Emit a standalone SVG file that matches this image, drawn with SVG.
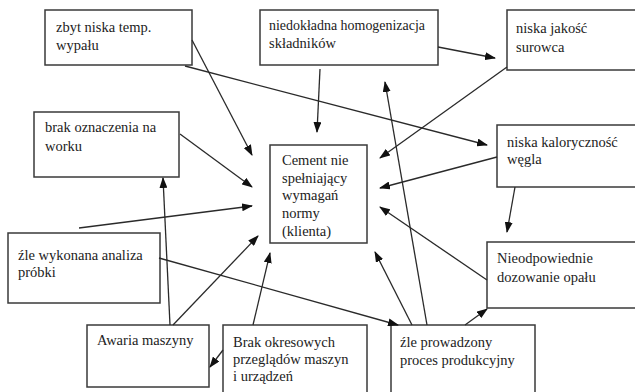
<svg xmlns="http://www.w3.org/2000/svg" width="635" height="392" viewBox="0 0 635 392">
<style>
.box{fill:#fff;stroke:#3a3a3a;stroke-width:1.5}
.t{font-family:'Liberation Serif','Tinos','DejaVu Serif','Noto Serif',serif;font-size:14.5px;fill:#222}
.c line{stroke:#2a2a2a;stroke-width:1.3;marker-end:url(#ah)}
</style>
<defs>
<marker id="ah" markerUnits="userSpaceOnUse" markerWidth="11" markerHeight="8" refX="10" refY="4" orient="auto">
<path d="M0,0 L11,4 L0,8 z" fill="#111"/>
</marker>
</defs>
<rect width="635" height="392" fill="#fff"/>
<g id="n-zbyt"><rect class="box" x="45" y="10" width="147" height="55"/><text class="t" x="56" y="32">zbyt niska temp.</text><text class="t" x="56" y="50">wypału</text></g>
<g id="n-brak-oznaczenia"><rect class="box" x="34" y="112" width="145" height="65"/><text class="t" x="45" y="132">brak oznaczenia na</text><text class="t" x="45" y="151">worku</text></g>
<g id="n-niedokladna"><rect class="box" x="260" y="10" width="178" height="55"/><text class="t" x="269" y="30" textLength="156" lengthAdjust="spacingAndGlyphs">niedokładna homogenizacja</text><text class="t" x="269" y="48">składników</text></g>
<g id="n-jakosc"><rect class="box" x="507" y="10" width="135" height="60"/><text class="t" x="516" y="33">niska jakość</text><text class="t" x="516" y="52">surowca</text></g>
<g id="n-kalorycznosc"><rect class="box" x="497" y="125" width="145" height="62"/><text class="t" x="507" y="147">niska kaloryczność</text><text class="t" x="507" y="164">węgla</text></g>
<g id="n-cement"><rect class="box" x="270" y="145" width="97" height="98"/><text class="t" x="282" y="165">Cement nie</text><text class="t" x="282" y="183">spełniający</text><text class="t" x="282" y="200">wymagań</text><text class="t" x="282" y="218">normy</text><text class="t" x="282" y="236">(klienta)</text></g>
<g id="n-analiza"><rect class="box" x="8" y="233" width="152" height="70"/><text class="t" x="18" y="260">źle wykonana analiza</text><text class="t" x="18" y="277">próbki</text></g>
<g id="n-awaria"><rect class="box" x="87" y="325" width="122" height="62"/><text class="t" x="97" y="345">Awaria maszyny</text></g>
<g id="n-przeglady"><rect class="box" x="223" y="325" width="144" height="72"/><text class="t" x="233" y="347">Brak okresowych</text><text class="t" x="233" y="364">przeglądów maszyn</text><text class="t" x="233" y="381">i urządzeń</text></g>
<g id="n-proces"><rect class="box" x="391" y="325" width="144" height="72"/><text class="t" x="400" y="347">źle prowadzony</text><text class="t" x="400" y="365">proces produkcyjny</text></g>
<g id="n-dozowanie"><rect class="box" x="487" y="242" width="155" height="66"/><text class="t" x="497" y="263">Nieodpowiednie</text><text class="t" x="497" y="282">dozowanie opału</text></g>
<g id="connectors" class="c">
<line x1="192" y1="40" x2="252" y2="155"/>
<line x1="185" y1="66" x2="487" y2="145"/>
<line x1="180" y1="134" x2="252" y2="187"/>
<line x1="170" y1="325" x2="163" y2="178"/>
<line x1="79" y1="228" x2="252" y2="206"/>
<line x1="173" y1="325" x2="258" y2="236"/>
<line x1="253" y1="325" x2="270" y2="253"/>
<line x1="223" y1="350" x2="210" y2="367"/>
<line x1="159" y1="258" x2="398" y2="325"/>
<line x1="412" y1="325" x2="375" y2="252"/>
<line x1="427" y1="325" x2="385" y2="82"/>
<line x1="465" y1="325" x2="487" y2="309"/>
<line x1="487" y1="280" x2="380" y2="207"/>
<line x1="515" y1="187" x2="507" y2="232"/>
<line x1="497" y1="157" x2="380" y2="188"/>
<line x1="507" y1="67" x2="380" y2="158"/>
<line x1="438" y1="47" x2="495" y2="58"/>
<line x1="320" y1="69" x2="317" y2="132"/>
</g>
</svg>
